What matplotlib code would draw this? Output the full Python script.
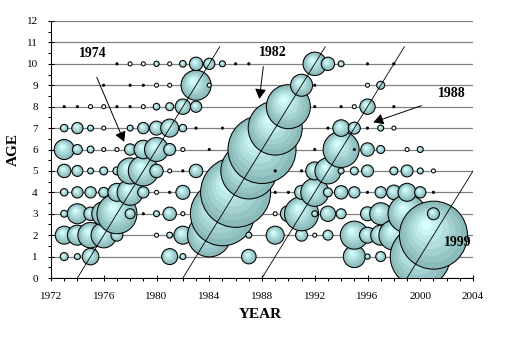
import numpy as np
import matplotlib
matplotlib.use("Agg")
import matplotlib.pyplot as plt
from matplotlib.patches import Ellipse
from matplotlib.colors import to_rgb
from matplotlib.ticker import MultipleLocator

plt.rcParams['font.family'] = 'Liberation Serif'

# bubble data per age: (year, size index); size index ~ bubble area
age1 = [(1973, 16), (1974, 9), (1975, 69), (1981, 64), (1982, 9), (1987, 53),
        (1995, 121), (1996, 7), (1997, 25), (2000, 900)]
age2 = [(1973, 81), (1974, 100), (1975, 161), (1976, 161), (1977, 36), (1980, 4),
        (1981, 9), (1982, 81), (1984, 471), (1987, 9), (1989, 81), (1991, 36),
        (1992, 4), (1993, 25), (1995, 196), (1996, 64), (1997, 100), (1998, 225),
        (2001, 1156)]
age3 = [(1973, 12), (1974, 100), (1975, 45), (1976, 144), (1977, 400), (1978, 25),
        (1979, 1), (1980, 9), (1981, 45), (1982, 4), (1985, 1024), (1989, 4),
        (1990, 64), (1991, 289), (1992, 9), (1993, 59), (1994, 25), (1996, 49),
        (1997, 121), (1999, 361), (2000, 4), (2001, 36)]
age4 = [(1973, 14), (1974, 32), (1975, 32), (1976, 25), (1977, 81), (1978, 169),
        (1979, 32), (1980, 4), (1981, 1), (1982, 49), (1986, 1225), (1989, 1),
        (1990, 1), (1991, 49), (1992, 196), (1993, 20), (1994, 45), (1995, 32),
        (1996, 1), (1997, 32), (1998, 53), (1999, 81), (2000, 32), (2001, 1)]
age5 = [(1973, 45), (1974, 30), (1975, 9), (1976, 16), (1977, 16), (1978, 169),
        (1979, 225), (1980, 45), (1981, 4), (1982, 1), (1983, 45), (1987, 784),
        (1989, 1), (1991, 1), (1992, 81), (1993, 169), (1994, 9), (1995, 16),
        (1996, 36), (1998, 16), (1999, 36), (2000, 9), (2001, 4)]
age6 = [(1973, 100), (1974, 25), (1975, 12), (1976, 4), (1977, 4), (1978, 32),
        (1979, 86), (1980, 144), (1981, 36), (1982, 4), (1984, 1), (1988, 1156),
        (1992, 1), (1994, 324), (1995, 1), (1996, 45), (1997, 16), (1999, 4),
        (2000, 9)]
age7 = [(1973, 14), (1974, 32), (1975, 9), (1976, 4), (1978, 9), (1979, 32),
        (1980, 49), (1981, 81), (1982, 14), (1983, 1), (1985, 1), (1989, 729),
        (1993, 1), (1994, 69), (1995, 36), (1996, 1), (1997, 9), (1998, 4)]
age8 = [(1973, 1), (1974, 1), (1975, 4), (1976, 4), (1977, 1), (1978, 1),
        (1979, 4), (1980, 11), (1981, 16), (1982, 59), (1983, 32), (1990, 484),
        (1992, 1), (1994, 1), (1995, 4), (1996, 59), (1998, 1)]
age9 = [(1976, 1), (1978, 1), (1979, 1), (1980, 4), (1981, 4), (1983, 225),
        (1984, 4), (1991, 121), (1992, 1), (1996, 4), (1997, 16)]
age10 = [(1977, 1), (1978, 4), (1979, 4), (1980, 7), (1981, 4), (1982, 11),
         (1983, 45), (1984, 32), (1985, 9), (1986, 1), (1987, 1), (1992, 137),
         (1993, 45), (1994, 9), (1996, 1), (1998, 1)]

ages_data = {1: age1, 2: age2, 3: age3, 4: age4, 5: age5,
             6: age6, 7: age7, 8: age8, 9: age9, 10: age10}

cohorts = [1974, 1982, 1988, 1999]
x_ticks = list(range(1972, 2005, 4))
y_ticks = list(range(0, 13))

W, H = 531, 354
fig = plt.figure(figsize=(W / 100, H / 100), dpi=100)
ax_l, ax_b, ax_w, ax_h = 51, 278, 422, 257
ax = fig.add_axes([ax_l / W, (H - ax_b) / H, ax_w / W, ax_h / H])
ax.set_xlim(1972, 2004)
ax.set_ylim(0, 12)
ppx = ax_w / 32.0
ppy = ax_h / 12.0

edge_rgb = np.array(to_rgb('#8ABABA'))
core_rgb = np.array(to_rgb('#D6FFFF'))
n_rings = 7


def draw_bubble(x, y, v):
    r = np.sqrt(v)
    if r <= 1.2:
        ax.add_patch(Ellipse((x, y), 2.4 / ppx, 2.4 / ppy, fc='black',
                             ec='black', lw=0.5, zorder=2))
        return
    if r <= 2.2:
        ax.add_patch(Ellipse((x, y), 2 * r / ppx, 2 * r / ppy, fc='white',
                             ec='black', lw=0.75, zorder=2))
        return
    for k in range(n_rings):
        f = 1 - k / n_rings
        t = k / (n_rings - 1)
        col = edge_rgb * (1 - t) + core_rgb * t
        off = r * (1 - f) * 0.45
        cx = x - off * 0.55 / ppx
        cy = y + off * 0.8 / ppy
        ax.add_patch(Ellipse((cx, cy), 2 * r * f / ppx, 2 * r * f / ppy,
                             fc=col, ec='none', zorder=2))
    ax.add_patch(Ellipse((x, y), 2 * r / ppx, 2 * r / ppy, fc='none',
                         ec='black', lw=0.75, zorder=2))


points = []
for age, lst in ages_data.items():
    for yr, v in lst:
        points.append((yr, age, v))
points.sort(key=lambda p: (p[0], p[1]))
for yr, age, v in points:
    draw_bubble(yr, age, v)

# cohort lines
for c in cohorts:
    ax.plot([c, c + 10.8], [0, 10.8], color='black', lw=0.6, zorder=3)

# labels and arrows
lab_kw = dict(fontsize=10, fontweight='bold', ha='center', va='center', zorder=5)
ax.text(1975.2, 10.5, '1974', **lab_kw)
ax.text(1988.8, 10.55, '1982', **lab_kw)
ax.text(2002.4, 8.6, '1988', **lab_kw)
ax.text(2002.85, 1.68, '1999', **lab_kw)
arr = dict(arrowstyle='-|>,head_length=0.5,head_width=0.28', color='black',
           lw=0.7, mutation_scale=12, shrinkA=0, shrinkB=0)
ax.annotate('', xy=(1977.55, 6.36), xytext=(1975.47, 9.37), arrowprops=arr)
ax.annotate('', xy=(1987.8, 8.36), xytext=(1988.1, 9.87), arrowprops=arr)
ax.annotate('', xy=(1996.44, 7.27), xytext=(2000.1, 8.05), arrowprops=arr)

# axes styling
ax.set_xticks(x_ticks)
ax.set_yticks(y_ticks)
ax.xaxis.set_minor_locator(MultipleLocator(1))
ax.yaxis.set_minor_locator(MultipleLocator(0.5))
ax.tick_params(axis='x', which='major', direction='inout', length=4.5,
               width=0.75, labelsize=8, pad=8)
ax.tick_params(axis='x', which='minor', direction='out', length=2.2, width=0.75)
ax.tick_params(axis='y', which='major', direction='inout', length=5,
               width=0.75, labelsize=8, pad=7)
ax.tick_params(axis='y', which='minor', direction='out', length=2.2, width=0.75)
ax.yaxis.grid(True, which='major', color='#808080', lw=0.9)
ax.set_axisbelow(True)
for s in ['top', 'right']:
    ax.spines[s].set_visible(False)
for s in ['left', 'bottom']:
    ax.spines[s].set_linewidth(0.75)
    ax.spines[s].set_zorder(6)

fig.text(260 / W, 1 - 314 / H, 'YEAR', fontsize=11, fontweight='bold',
         ha='center', va='center')
fig.text(13 / W, 1 - 150 / H, 'AGE', fontsize=11, fontweight='bold',
         ha='center', va='center', rotation=90)

fig.savefig('out.png', dpi=100)
